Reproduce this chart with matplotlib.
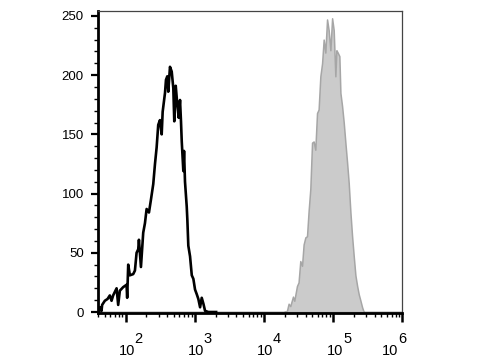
import numpy as np
import matplotlib
matplotlib.use("Agg")
import matplotlib.pyplot as plt
from matplotlib.ticker import FixedLocator, MultipleLocator, NullFormatter
from matplotlib.transforms import ScaledTranslation, blended_transform_factory

plt.rcParams["font.family"] = ["Liberation Sans", "DejaVu Sans"]

# unstained / isotype control (black outline), x given as log10 of intensity
black_log = np.array([
    1.613, 1.628, 1.652, 1.661, 1.700, 1.739, 1.772, 1.797, 1.820, 1.870,
    1.893, 1.917, 1.965, 2.014, 2.023, 2.038, 2.062, 2.110, 2.135, 2.159,
    2.183, 2.193, 2.222, 2.255, 2.280, 2.304, 2.338, 2.367, 2.400, 2.425,
    2.449, 2.472, 2.497, 2.522, 2.536, 2.555, 2.570, 2.584, 2.603, 2.617,
    2.642, 2.667, 2.690, 2.704, 2.725, 2.748, 2.768, 2.787, 2.801, 2.812,
    2.835, 2.845, 2.859, 2.884, 2.893, 2.907, 2.932, 2.957, 2.980, 3.004,
    3.029, 3.052, 3.077, 3.101, 3.125, 3.149, 3.197, 3.270, 3.309,
])
black_count = np.array([
    0, 4, 1, 6, 9.5, 11, 14, 9.5, 14, 20,
    6, 18, 21, 23, 12, 40, 31, 32, 35, 50,
    53, 61, 38, 67, 75, 87, 84, 95, 108, 125,
    139, 158, 162, 150, 169, 178, 185, 196, 199, 186,
    207, 203, 189, 161, 191, 175, 164, 179, 161, 144,
    119, 136, 110, 89, 78, 56, 47, 31, 28, 19,
    15, 11, 4, 12, 7, 1, 0, 0, 0,
])

# stained sample (grey filled)
grey_log = np.array([
    1.600, 4.284, 4.333, 4.357, 4.381, 4.420, 4.439, 4.478, 4.501, 4.526,
    4.551, 4.574, 4.599, 4.623, 4.646, 4.671, 4.696, 4.719, 4.743, 4.768,
    4.791, 4.816, 4.841, 4.864, 4.888, 4.913, 4.936, 4.961, 4.986, 5.009,
    5.033, 5.048, 5.067, 5.091, 5.106, 5.130, 5.154, 5.178, 5.203, 5.226,
    5.251, 5.275, 5.299, 5.323, 5.348, 5.371, 5.396, 5.420, 5.443, 6.000,
])
grey_count = np.array([
    0, 0, 1, 7, 5, 13, 9.5, 22, 25, 43,
    39, 57, 63, 64, 85, 104, 143, 144, 137, 168,
    171, 199, 210, 230, 219, 247, 238, 221, 248, 238,
    199, 221, 219, 216, 185, 174, 160, 143, 126, 109,
    84, 64, 47, 31, 22, 15, 9.5, 4, 0, 0,
])

decades = [2, 3, 4, 5, 6]
label_shift = [0, 0, 0, 1, -13]   # px, last label pulled inside the frame


def main():
    fig = plt.figure(figsize=(4.8, 3.6), dpi=100)
    ax = fig.add_axes([0.204, 0.130, 0.634, 0.839])

    ax.fill_between(10 ** grey_log, grey_count, 0, color="#cbcbcb",
                    edgecolor="#a6a6a6", linewidth=1.1, zorder=1)
    ax.plot(10 ** black_log, black_count, color="black", linewidth=1.9,
            zorder=3)

    ax.set_xscale("log")
    ax.set_xlim(10 ** 1.6, 10 ** 6.0)
    ax.set_ylim(-1, 254)

    ax.xaxis.set_major_locator(FixedLocator([10.0 ** d for d in decades]))
    minors = [m * 10.0 ** d for d in range(1, 6) for m in range(2, 10)]
    ax.xaxis.set_minor_locator(FixedLocator(minors))
    ax.xaxis.set_major_formatter(NullFormatter())
    ax.xaxis.set_minor_formatter(NullFormatter())

    ax.yaxis.set_major_locator(MultipleLocator(50))
    ax.yaxis.set_minor_locator(MultipleLocator(10))

    for side in ("left", "bottom"):
        ax.spines[side].set_linewidth(2.0)
    for side in ("top", "right"):
        ax.spines[side].set_linewidth(0.9)
        ax.spines[side].set_color("#444444")

    ax.tick_params(axis="x", which="major", direction="out", length=6.5,
                   width=1.8, color="black")
    ax.tick_params(axis="y", which="major", direction="out", length=5.2,
                   width=1.6, color="black")
    ax.tick_params(axis="both", which="minor", direction="out", length=3.0,
                   width=1.0, color="black")
    ax.tick_params(axis="y", which="major", labelsize=9.5, pad=5)

    trans = blended_transform_factory(ax.transData, ax.transAxes)
    for d, sh in zip(decades, label_shift):
        off = ScaledTranslation((sh + 1) / 100, -42 / 100, fig.dpi_scale_trans)
        ax.text(10.0 ** d, 0, "10", transform=trans + off, ha="center",
                va="baseline", fontsize=10.5, clip_on=False)
        off2 = ScaledTranslation((sh + 9) / 100, -30 / 100, fig.dpi_scale_trans)
        ax.text(10.0 ** d, 0, str(d), transform=trans + off2, ha="left",
                va="baseline", fontsize=10.5, clip_on=False)

    fig.savefig("out.png", dpi=100)
    plt.close(fig)


if __name__ == "__main__":
    main()
